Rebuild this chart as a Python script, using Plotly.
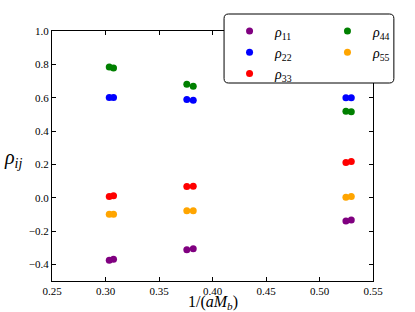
import plotly.graph_objects as go

x_vals = [0.3035, 0.3075, 0.376, 0.382, 0.5247, 0.5297]
rho11 = [-0.375, -0.369, -0.313, -0.307, -0.140, -0.134]
rho22 = [0.601, 0.601, 0.589, 0.585, 0.599, 0.599]
rho33 = [0.007, 0.011, 0.067, 0.069, 0.211, 0.217]
rho44 = [0.784, 0.778, 0.681, 0.669, 0.519, 0.515]
rho55 = [-0.099, -0.099, -0.078, -0.078, 0.003, 0.007]

series = [
    ("<i>ρ</i><sub>11</sub>", rho11, "#800080", "legend"),
    ("<i>ρ</i><sub>22</sub>", rho22, "#0000ff", "legend"),
    ("<i>ρ</i><sub>33</sub>", rho33, "#ff0000", "legend"),
    ("<i>ρ</i><sub>44</sub>", rho44, "#008000", "legend2"),
    ("<i>ρ</i><sub>55</sub>", rho55, "#ffa500", "legend2"),
]

x_ticks = [0.25, 0.30, 0.35, 0.40, 0.45, 0.50, 0.55]
y_ticks = [-0.4, -0.2, 0.0, 0.2, 0.4, 0.6, 0.8, 1.0]

fig = go.Figure()
for i, (name, vals, color, leg) in enumerate(series):
    fig.add_trace(go.Scatter(
        x=x_vals, y=vals, mode="markers", name=name, legend=leg,
        legendgroup=f"g{i}",
        marker=dict(color=color, size=7, line=dict(width=0)),
    ))

serif = "Liberation Serif, Times New Roman, serif"
leg_common = dict(
    orientation="v", xanchor="left", yanchor="top",
    bgcolor="rgba(0,0,0,0)", borderwidth=0, itemwidth=41,
    font=dict(family=serif, size=14), tracegroupgap=0,
)
fig.update_layout(
    width=415, height=312,
    margin=dict(l=52, r=42, t=31, b=31, autoexpand=False),
    plot_bgcolor="white", paper_bgcolor="white",
    font=dict(family=serif, color="black", size=11),
    showlegend=True,
    legend=dict(x=0.536, y=1.062, **leg_common),
    legend2=dict(x=0.841, y=1.062, **leg_common),
    xaxis=dict(
        range=[0.25, 0.55], tickvals=x_ticks, ticktext=[f"{v:.2f}" for v in x_ticks],
        ticks="inside", ticklen=4, tickcolor="black", mirror="ticks",
        showline=True, linecolor="black", linewidth=1, showgrid=False, zeroline=False,
        tickfont=dict(family=serif, size=11),
    ),
    yaxis=dict(
        range=[-0.5, 1.0], tickvals=y_ticks,
        ticktext=[(f"{v:.1f}").replace("-", "−") for v in y_ticks],
        ticks="inside", ticklen=4, tickcolor="black", mirror="ticks",
        showline=True, linecolor="black", linewidth=1, showgrid=False, zeroline=False,
        tickfont=dict(family=serif, size=11),
    ),
)

# rounded legend frame
x0, x1 = 0.536, 1.065
y0, y1 = 0.792, 1.068
rx, ry = 0.014, 0.018
path = (f"M {x0+rx},{y0} L {x1-rx},{y0} Q {x1},{y0} {x1},{y0+ry} "
        f"L {x1},{y1-ry} Q {x1},{y1} {x1-rx},{y1} L {x0+rx},{y1} "
        f"Q {x0},{y1} {x0},{y1-ry} L {x0},{y0+ry} Q {x0},{y0} {x0+rx},{y0} Z")
fig.add_shape(type="path", path=path, xref="paper", yref="paper",
              fillcolor="white", line=dict(color="black", width=1), layer="above")

fig.add_annotation(text="<i>ρ<sub>ij</sub></i>", xref="paper", yref="paper",
                   x=-0.155, y=0.49, showarrow=False, font=dict(family=serif, size=20))
fig.add_annotation(text="1/(<i>aM<sub>b</sub></i>)", xref="paper", yref="paper",
                   x=0.5, y=-0.084, yanchor="middle", showarrow=False,
                   font=dict(family=serif, size=16))

fig.write_html("out.html", config={"displayModeBar": False},
               post_script="document.body.style.margin='0';document.body.style.padding='0';")
